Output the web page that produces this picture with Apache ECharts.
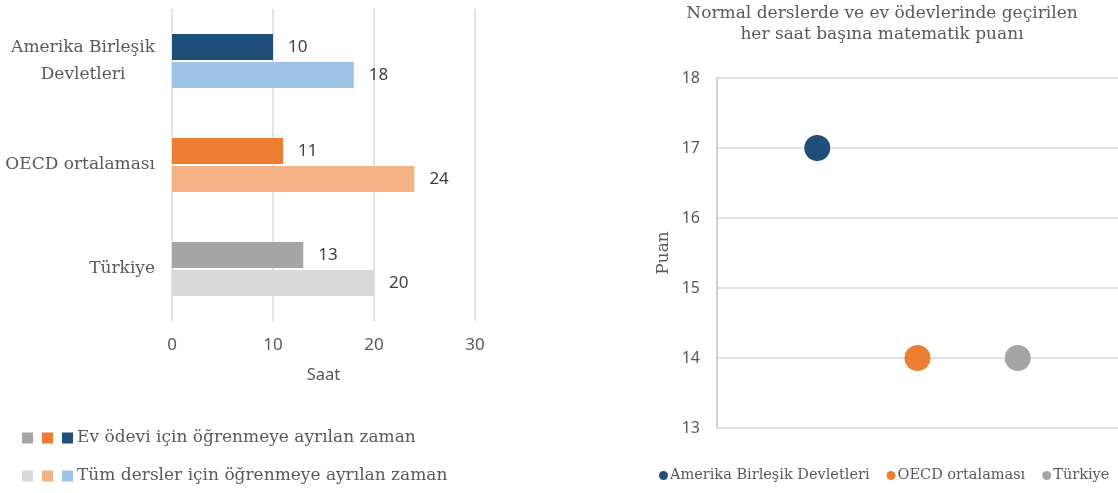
<!DOCTYPE html>
<html lang="tr">
  <head>
    <meta charset="UTF-8" />
    <title>Matematik</title>
    <style>
      html, body { margin: 0; padding: 0; background: #fff; }
      #chart { width: 1118px; height: 493px; }
    </style>
  </head>
  <body>
    <div id="chart"></div>
  </body>
  <script src="https://cdn.jsdelivr.net/npm/echarts@6/dist/echarts.min.js"></script>
  <script>
    // data
    const countries = ["Amerika Birleşik Devletleri", "OECD ortalaması", "Türkiye"];
    const homeworkHours = [10, 11, 13];
    const lessonHours = [18, 24, 20];
    const homeworkColors = ["#1f4e79", "#ed7d31", "#a5a5a5"];
    const lessonColors = ["#9dc3e6", "#f4b183", "#d9d9d9"];
    const barLegend = ["Ev ödevi için öğrenmeye ayrılan zaman", "Tüm dersler için öğrenmeye ayrılan zaman"];
    const scoreX = [1, 2, 3];
    const scorePerHour = [17, 14, 14];
    const scoreColors = ["#1f4e79", "#ed7d31", "#a5a5a5"];
    const saatTicks = [0, 10, 20, 30];
    const puanTicks = [13, 14, 15, 16, 17, 18];

    const serif = "DejaVu Serif";
    const sans = "Noto Sans";
    const textGray = "#595959";

    const chart = echarts.init(document.getElementById("chart"));

    // left legend: three squares + text per row (reverse colour order like the picture)
    const legendRows = [homeworkColors, lessonColors];
    const legendGraphics = [];
    legendRows.forEach((cols, r) => {
      const cy = 438 + r * 38;
      cols.slice().reverse().forEach((c, i) => {
        legendGraphics.push({
          type: "rect",
          shape: { x: 22 + i * 20, y: cy - 5.5, width: 11, height: 11 },
          style: { fill: c }
        });
      });
      legendGraphics.push({
        type: "text",
        x: 77,
        y: cy,
        style: {
          text: barLegend[r],
          font: "17px '" + serif + "'",
          fill: textGray,
          verticalAlign: "middle"
        }
      });
    });

    const option = {
      animation: false,
      title: {
        text: "Normal derslerde ve ev ödevlerinde geçirilen\nher saat başına matematik puanı",
        left: 877,
        top: -2,
        textAlign: "center",
        textStyle: {
          fontFamily: serif,
          fontWeight: "normal",
          fontSize: 17,
          lineHeight: 21,
          color: textGray,
          align: "center"
        }
      },
      legend: {
        data: countries,
        left: 659,
        top: 468,
        padding: 0,
        icon: "circle",
        itemWidth: 9,
        itemHeight: 9,
        itemGap: 17,
        textStyle: { fontFamily: serif, fontSize: 14.5, color: textGray, padding: [0, 0, 0, -3] }
      },
      graphic: legendGraphics,
      grid: [
        { left: 172, right: 643, top: 9, bottom: 172 },
        { left: 717, right: 0, top: 78, bottom: 65 }
      ],
      xAxis: [
        {
          type: "value",
          gridIndex: 0,
          min: saatTicks[0],
          max: saatTicks[saatTicks.length - 1],
          interval: 10,
          name: "Saat",
          nameLocation: "middle",
          nameGap: 46,
          nameTextStyle: { fontFamily: sans, fontSize: 16.5, color: textGray },
          axisLine: { show: false },
          axisTick: { show: false },
          axisLabel: { margin: 16, fontFamily: sans, fontSize: 17, color: textGray },
          splitLine: { lineStyle: { color: "#d9d9d9", width: 1.5 } }
        },
        {
          type: "value",
          gridIndex: 1,
          min: 0,
          max: 4,
          show: false
        }
      ],
      yAxis: [
        {
          type: "category",
          gridIndex: 0,
          data: countries,
          inverse: true,
          axisLine: { show: false },
          axisTick: { show: false },
          axisLabel: {
            margin: 17,
            fontFamily: serif,
            fontSize: 17,
            color: textGray,
            lineHeight: 27,
            formatter: v => v === countries[0]
              ? "{c|Amerika Birleşik}\n{c|Devletleri}"
              : "{c|" + v + "}",
            rich: { c: { align: "center", fontFamily: serif, fontSize: 17, color: textGray, lineHeight: 27 } }
          }
        },
        {
          type: "value",
          gridIndex: 1,
          min: puanTicks[0],
          max: puanTicks[puanTicks.length - 1],
          interval: 1,
          name: "Puan",
          nameLocation: "middle",
          nameGap: 45,
          nameTextStyle: { fontFamily: serif, fontSize: 17, color: textGray },
          axisLine: { show: true, lineStyle: { color: "#bfbfbf", width: 1.5 } },
          axisTick: { show: false },
          axisLabel: { margin: 17, fontFamily: sans, fontSize: 16, color: textGray },
          splitLine: { lineStyle: { color: "#d9d9d9", width: 1.5 } }
        }
      ],
      series: [
        {
          name: barLegend[0],
          type: "bar",
          xAxisIndex: 0,
          yAxisIndex: 0,
          barWidth: 26,
          barGap: "8%",
          data: homeworkHours.map((v, i) => ({ value: v, itemStyle: { color: homeworkColors[i] } })),
          label: {
            show: true,
            position: "right",
            distance: 15,
            fontFamily: sans,
            fontSize: 17,
            color: "#404040"
          }
        },
        {
          name: barLegend[1],
          type: "bar",
          xAxisIndex: 0,
          yAxisIndex: 0,
          barWidth: 26,
          barGap: "8%",
          data: lessonHours.map((v, i) => ({ value: v, itemStyle: { color: lessonColors[i] } })),
          label: {
            show: true,
            position: "right",
            distance: 15,
            fontFamily: sans,
            fontSize: 17,
            color: "#404040"
          }
        }
      ].concat(countries.map((name, i) => ({
        name: name,
        type: "scatter",
        xAxisIndex: 1,
        yAxisIndex: 1,
        symbolSize: 26,
        itemStyle: { color: scoreColors[i], opacity: 1 },
        data: [[scoreX[i], scorePerHour[i]]]
      })))
    };

    chart.setOption(option);
  </script>
</html>
